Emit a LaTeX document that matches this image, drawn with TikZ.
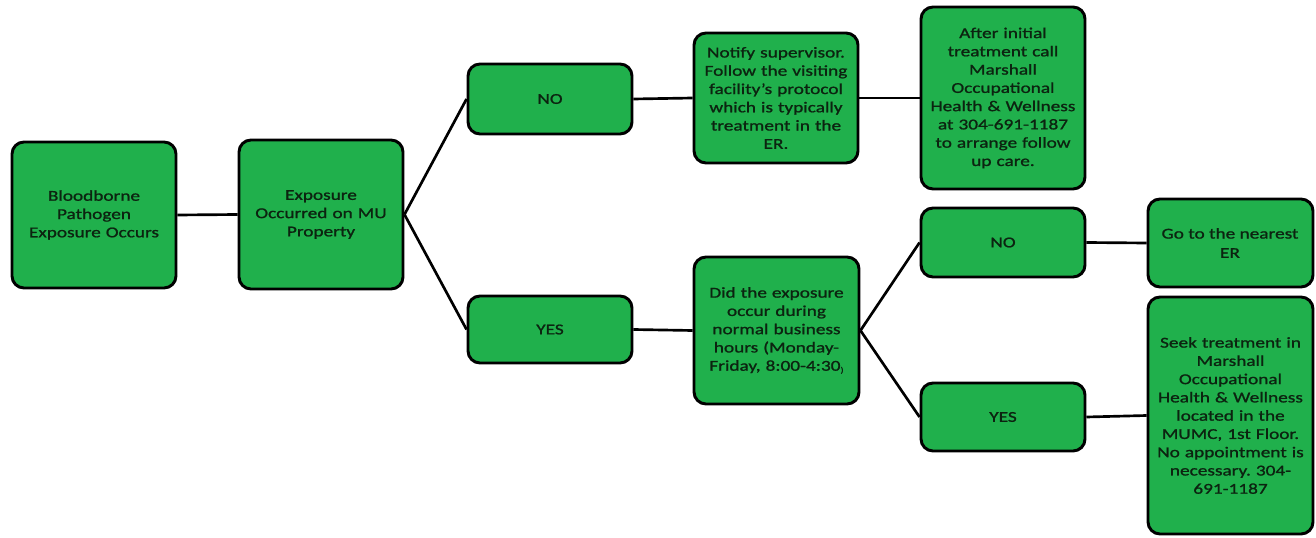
\documentclass[tikz,border=0pt]{standalone}
\usepackage{fontspec}
\setmainfont{Carlito}[FakeStretch=1.28,FakeBold=1.1]
\definecolor{boxgreen}{RGB}{32,176,76}
\definecolor{txtcol}{RGB}{12,35,16}
\frenchspacing
\begin{document}
\begin{tikzpicture}[x=0.75pt,y=-0.75pt,
  box/.style={draw=black,line width=2.2pt,fill=boxgreen,rounded corners=9pt,
    align=center,inner sep=1pt,text=txtcol,font=\fontsize{11.3}{13.7}\selectfont},
  lbl/.style={align=center,inner sep=0pt,text=txtcol,font=\fontsize{11.3}{14.5}\selectfont},
  conn/.style={line width=2pt,draw=black}]
\useasboundingbox (0,0) rectangle (1316,538);
% box(name, x1,y1,x2,y2)
\newcommand{\bx}[6]{\node[box,minimum width={(#4-#2)*0.75pt},minimum height={(#5-#3)*0.75pt},text width={(#4-#2-6)*0.75pt}] (#1) at ({(#2+#4)/2},{(#3+#5)/2}) {#6};}
\bx{a}{12}{142}{176}{288}{Bloodborne\\Pathogen\\Exposure Occurs}
\bx{b}{239}{140}{403}{289}{Exposure\\Occurred on MU\\Property}
\bx{no1}{468}{64}{632}{134}{NO}
\bx{yes1}{468}{296}{632}{363}{YES}
\bx{notify}{694}{33}{858}{163}{Notify supervisor.\\Follow the visiting\\facility's protocol\\which is typically\\treatment in the\\ER.}
\bx{after}{921}{7}{1085}{189}{After initial\\treatment call\\Marshall\\Occupational\\Health \& Wellness\\at 304-691-1187\\to arrange follow\\up care.}
\bx{did}{694}{257}{859}{404}{Did the exposure\\occur during\\normal business\\hours (Monday-\\Friday, 8:00-4:30\raisebox{-1.5pt}{\fontsize{6}{6}\selectfont )}}
\bx{no2}{921}{208}{1085}{277}{NO}
\bx{yes2}{921}{383}{1085}{451}{YES}
\bx{go}{1148}{199}{1313}{287}{}
\node[lbl] (gotext) at (1230,243) {Go to the nearest\\ER};
\bx{seek}{1148}{297}{1313}{534}{Seek treatment in\\Marshall\\Occupational\\Health \& Wellness\\located in the\\MUMC, 1st Floor.\\No appointment is\\necessary. 304-\\691-1187}
\draw[conn] (a.east) -- (b.west);
\draw[conn] (b.east) -- (no1.west);
\draw[conn] (b.east) -- (yes1.west);
\draw[conn] (no1.east) -- (notify.west);
\draw[conn] (notify.east) -- (after.west);
\draw[conn] (yes1.east) -- (did.west);
\draw[conn] (did.east) -- (no2.west);
\draw[conn] (did.east) -- (yes2.west);
\draw[conn] (no2.east) -- (go.west);
\draw[conn] (yes2.east) -- (seek.west);
\end{tikzpicture}
\end{document}
